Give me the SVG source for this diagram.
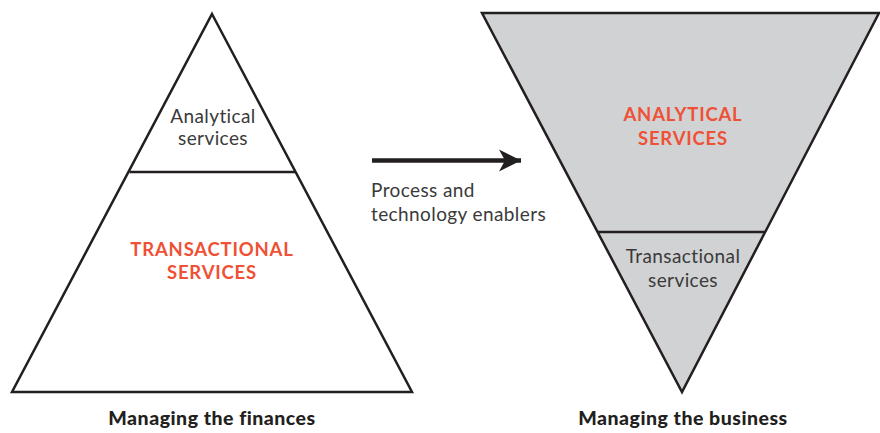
<svg xmlns="http://www.w3.org/2000/svg" width="880" height="433" viewBox="0 0 880 433">
<style>
.tri{stroke:#231f20;stroke-width:2.5;stroke-linejoin:miter}
.div{stroke:#231f20;stroke-width:2.5;fill:none}
.t{font-family:Lato,"Open Sans",sans-serif;font-size:19px;fill:#3a3a3a;text-anchor:middle;letter-spacing:0.4px}
.o{font-family:Lato,"Open Sans",sans-serif;font-size:18.5px;font-weight:bold;fill:#ef5136;text-anchor:middle;letter-spacing:0.8px}
.b{font-family:Lato,"Open Sans",sans-serif;font-size:19.5px;font-weight:900;fill:#231f20;text-anchor:middle;letter-spacing:0.5px}
</style>
<defs>
<marker id="ah" markerWidth="24" markerHeight="24" viewBox="0 0 24 24" refX="22" refY="12" markerUnits="userSpaceOnUse" orient="auto">
<path d="M0,1 L22,12 L0,23 L6,12 Z" fill="#231f20"/>
</marker>
</defs>
<g id="left-pyramid">
<polygon class="tri" points="212,14 412,392 12,392" fill="#ffffff"/>
<line class="div" x1="129.5" y1="172" x2="295" y2="172"/>
<text class="t" x="213" y="123">Analytical</text>
<text class="t" x="213" y="145">services</text>
<text class="o" x="212" y="256">TRANSACTIONAL</text>
<text class="o" x="212" y="279">SERVICES</text>
<text class="b" x="212" y="425">Managing the finances</text>
</g>
<g id="right-pyramid">
<polygon class="tri" points="482,13 879,13 682,392" fill="#d1d2d4"/>
<line class="div" x1="598" y1="232" x2="765" y2="232"/>
<text class="o" x="683" y="121">ANALYTICAL</text>
<text class="o" x="683" y="145">SERVICES</text>
<text class="t" x="683" y="263">Transactional</text>
<text class="t" x="683" y="287">services</text>
<text class="b" x="683" y="425">Managing the business</text>
</g>
<g id="connectors">
<line x1="372" y1="160.5" x2="521" y2="160.5" stroke="#231f20" stroke-width="4.5" marker-end="url(#ah)"/>
</g>
<g id="arrow-label">
<text class="t" x="371" y="197" style="text-anchor:start">Process and</text>
<text class="t" x="371" y="221" style="text-anchor:start">technology enablers</text>
</g>
</svg>
